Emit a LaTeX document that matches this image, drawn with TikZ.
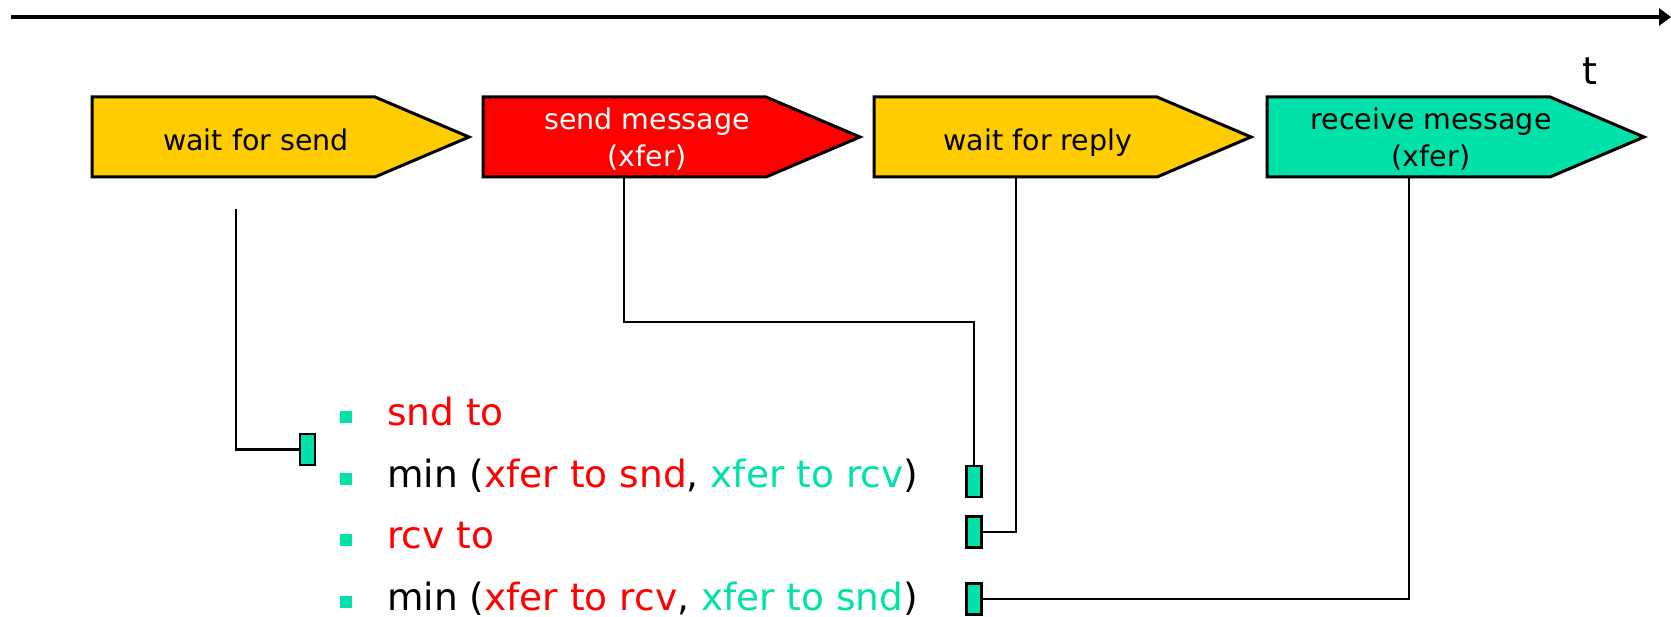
\documentclass[tikz,border=0pt]{standalone}
\usepackage{fontspec}
\setmainfont{DejaVu Sans}
\usetikzlibrary{arrows.meta}

\definecolor{stageyellow}{HTML}{FFCC00}
\definecolor{stagered}{HTML}{FF0000}
\definecolor{stageteal}{HTML}{00E2AA}

\tikzset{
  stagebox/.style={draw=black, line width=3pt, line join=miter},
  stagetext/.style={font=\fontsize{28.5}{37}\selectfont, align=center, inner sep=0pt, anchor=base},
  itemtext/.style={font=\fontsize{37.5}{44}\selectfont, inner sep=0pt, anchor=base west},
  bulletsq/.style={fill=stageteal, minimum width=12pt, minimum height=12pt, inner sep=0pt},
  tab/.style={draw=black, fill=stageteal, line width=2.8pt, minimum width=15pt, minimum height=31pt, inner sep=0pt},
  wire/.style={draw=black, line width=2.4pt, line join=miter},
}

% one pentagon-arrow stage: #1 left edge, #2 fill colour
\newcommand\stageshape[2]{%
  \draw[stagebox, fill=#2] (#1,97) -- ++(283,0) -- ++(94,40) -- ++(-94,40) -- ++(-283,0) -- cycle;}

\begin{document}
\begin{tikzpicture}[x=1pt, y=-1pt]
\useasboundingbox (0,0) rectangle (1671,617);

% time axis
\coordinate (t0) at (11,17);
\coordinate (t1) at (1671,17);
\draw[line width=3.2pt, -{Triangle[length=12pt,width=17pt]}] (t0) -- (t1);
\node[font=\fontsize{38}{44}\selectfont, inner sep=0pt, anchor=base] (tlabel) at (1590,85) {t};

% stages along the time axis
\stageshape{92}{stageyellow}
\stageshape{483}{stagered}
\stageshape{874}{stageyellow}
\stageshape{1267}{stageteal}

% multi-line nodes sit on the baseline of their last line
\node[stagetext] (s1) at (256,151) {wait for send};
\node[stagetext, text=white] (s2) at (647,167) {send message\\(xfer)};
\node[stagetext] (s3) at (1038,151) {wait for reply};
\node[stagetext] (s4) at (1431,167) {receive message\\(xfer)};

\coordinate (s1foot) at (236,209);
\coordinate (s2foot) at (624,177);
\coordinate (s3foot) at (1016,177);
\coordinate (s4foot) at (1409,177);

% timeout list
\node[bulletsq] (d1) at (346,417) {};
\node[bulletsq] (d2) at (346,479) {};
\node[bulletsq] (d3) at (346,540) {};
\node[bulletsq] (d4) at (346,602) {};

\node[itemtext] (i1) at (387,425) {\textcolor{stagered}{snd to}};
\node[itemtext] (i2) at (387,487) {min (\textcolor{stagered}{xfer to snd}, \textcolor{stageteal}{xfer to rcv})};
\node[itemtext] (i3) at (387,548) {\textcolor{stagered}{rcv to}};
\node[itemtext] (i4) at (387,610) {min (\textcolor{stagered}{xfer to rcv}, \textcolor{stageteal}{xfer to snd})};

% markers and their links to the stages
\node[tab] (m1) at (307.5,449.5) {};
\node[tab] (m2) at (974,481.5) {};
\node[tab] (m3) at (974,532) {};
\node[tab] (m4) at (974,599) {};

\draw[wire] (s1foot) |- (m1.west);
\draw[wire] (s2foot) -- (624,322) -| (m2.north);
\draw[wire] (s3foot) |- (m3.east);
\draw[wire] (s4foot) |- (m4.east);
\end{tikzpicture}
\end{document}
